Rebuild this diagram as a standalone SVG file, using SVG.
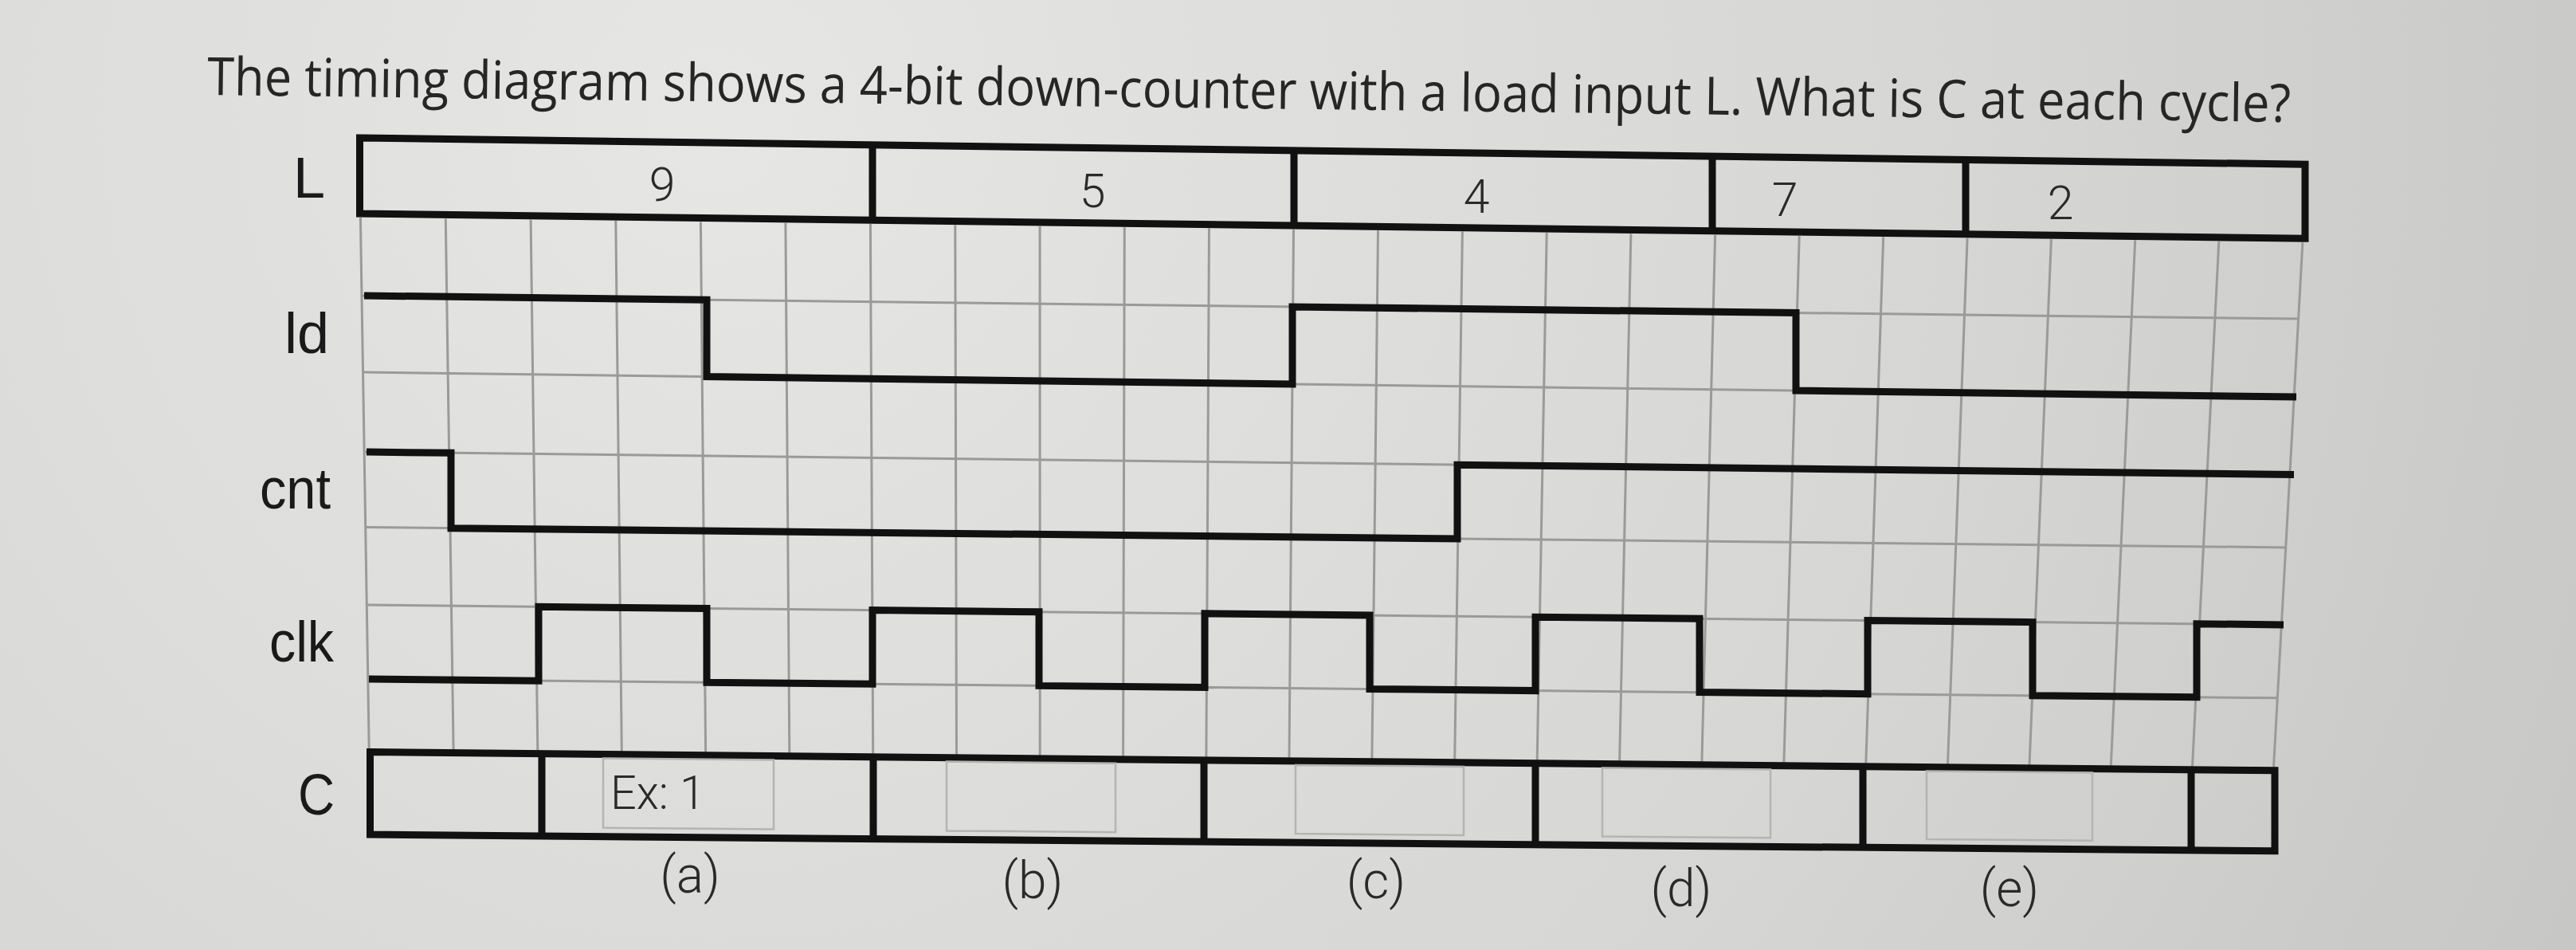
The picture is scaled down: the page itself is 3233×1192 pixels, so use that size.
<svg xmlns="http://www.w3.org/2000/svg" width="3233" height="1192" viewBox="0 0 3233 1192">
<defs>
<radialGradient id="bg" cx="900" cy="150" r="2600" gradientUnits="userSpaceOnUse">
<stop offset="0" stop-color="#e6e6e4"/>
<stop offset="0.6" stop-color="#d6d6d4"/>
<stop offset="1" stop-color="#c6c6c4"/>
</radialGradient>
<style>
.grid{stroke:#9a9a9a;stroke-width:3;fill:none}
.sig{stroke:#111;stroke-width:9;fill:none;stroke-linejoin:miter}
.box{stroke:#111;stroke-width:9;fill:none;stroke-linejoin:miter}
.inbox{stroke:#b4b4b2;stroke-width:2.5;fill:none}
.lbl{font-family:"Liberation Sans",Arial,sans-serif;font-size:72px;fill:#1a1a1a}
.thin{font-family:Roboto,"Liberation Sans",sans-serif;font-weight:300;fill:#2a2a2a}
.title{font-family:"Open Sans","Liberation Sans",sans-serif;font-size:66px;fill:#262626}
</style>
</defs>
<rect x="0" y="0" width="3233" height="1192" fill="url(#bg)"/>

<g id="title">
<text class="title" x="260" y="119" textLength="2615" lengthAdjust="spacingAndGlyphs" transform="rotate(0.745 260 119)">The timing diagram shows a 4-bit down-counter with a load input L. What is C at each cycle?</text>
</g>

<g id="grid">
<path class="grid" d="M452.4 273 L463.2 939.6 M559.3 274.4 L569.1 940.6 M666.1 275.7 L674.8 941.6 M772.8 277.1 L780.3 942.7 M879.4 278.4 L885.6 943.7 M985.9 279.8 L990.8 944.7 M1092.4 281.1 L1095.7 945.7 M1198.8 282.5 L1200.5 946.7 M1305.1 283.9 L1305.2 947.7 M1411.3 285.2 L1409.6 948.8 M1517.5 286.6 L1513.9 949.8 M1623.5 287.9 L1618 950.8 M1729.5 289.3 L1721.9 951.8 M1835.4 290.6 L1825.7 952.8 M1941.2 292 L1929.2 953.8 M2046.9 293.4 L2032.6 954.8 M2152.6 294.7 L2135.9 955.8 M2258.2 296.1 L2238.9 956.8 M2363.7 297.4 L2341.8 957.8 M2469.1 298.8 L2444.5 958.8 M2574.4 300.1 L2547 959.8 M2679.7 301.4 L2649.3 960.8 M2784.8 302.8 L2751.5 961.8 M2889.9 304.1 L2853.5 962.8"/>
<path class="grid" d="M454 371 L2884 400 M455.6 467 L2879 498 M457.2 567 L2873.5 595.4 M458.8 661.5 L2868.6 686.9 M460.4 759.1 L2862.9 783.9 M461.9 852.1 L2858 875.8"/>
</g>

<g id="labels">
<text class="lbl" x="368" y="248">L</text>
<text class="lbl" x="357" y="443">ld</text>
<text class="lbl" x="326" y="638" textLength="89" lengthAdjust="spacingAndGlyphs">cnt</text>
<text class="lbl" x="338" y="830" textLength="81" lengthAdjust="spacingAndGlyphs">clk</text>
<text class="lbl" x="374" y="1022" textLength="46" lengthAdjust="spacingAndGlyphs">C</text>
</g>

<g id="L-bus">
<path class="box" d="M451.5 173 L2893 206.2 L2893 299.2 L451.5 268 Z"/>
<path class="box" d="M1095 181.7 L1095 276.2 M1624 188.9 L1624 282.9 M2149 196.1 L2149 289.7 M2467 200.4 L2467 293.7"/>
<text class="thin" font-size="59" text-anchor="middle" x="831" y="252">9</text>
<text class="thin" font-size="59" text-anchor="middle" x="1371" y="260">5</text>
<text class="thin" font-size="59" text-anchor="middle" x="1853" y="267">4</text>
<text class="thin" font-size="59" text-anchor="middle" x="2240" y="271">7</text>
<text class="thin" font-size="59" text-anchor="middle" x="2586" y="275">2</text>
</g>

<g id="connectors">
<path id="ld" class="sig" d="M457 371 L887 376.2 L887 472.5 L1622 481.9 L1622 385 L2254 392.5 L2254 490 L2882 498"/>
<path id="cnt" class="sig" d="M460 567.1 L566 568.3 L566 662.7 L1829 676 L1829 583.2 L2879 595.5"/>
<path id="clk" class="sig" d="M463 852.1 L676 854.2 L676 761.3 L887 763.5 L887 856.3 L1095 858.3 L1095 765.6 L1304 767.8 L1304 860.4 L1512 862.5 L1512 769.9 L1719 772 L1719 864.5 L1927 866.6 L1927 774.2 L2133 776.3 L2133 868.6 L2344 870.7 L2344 778.5 L2551 780.6 L2551 872.7 L2757 874.8 L2757 782.7 L2866 783.9"/>
</g>

<g id="C-bus">
<path class="box" d="M464.5 943.6 L2855 966.8 L2855 1067.8 L464.5 1047.1 Z"/>
<path class="box" d="M680 945.7 L680 1049 M1096 949.7 L1096 1052.6 M1511 953.7 L1511 1056.2 M1927 957.8 L1927 1059.8 M2338 961.8 L2338 1063.3 M2750 965.7 L2750 1066.9"/>
<path class="inbox" d="M757 951.4 L971 953.5 L971 1040.5 L757 1038.6 Z"/>
<path class="inbox" d="M1188 955.6 L1400 957.7 L1400 1044.2 L1188 1042.4 Z"/>
<path class="inbox" d="M1626 959.9 L1837 961.9 L1837 1048 L1626 1046.1 Z"/>
<path class="inbox" d="M2011 963.6 L2222 965.6 L2222 1051.3 L2011 1049.5 Z"/>
<path class="inbox" d="M2418 967.5 L2626 969.5 L2626 1054.8 L2418 1053 Z"/>
<text class="thin" font-size="59" x="766" y="1015" textLength="119" lengthAdjust="spacingAndGlyphs">Ex: 1</text>
</g>

<g id="cycle-labels">
<text class="thin" font-size="64" text-anchor="middle" x="866" y="1120">(a)</text>
<text class="thin" font-size="64" text-anchor="middle" x="1296" y="1127">(b)</text>
<text class="thin" font-size="64" text-anchor="middle" x="1727" y="1127">(c)</text>
<text class="thin" font-size="64" text-anchor="middle" x="2110" y="1137">(d)</text>
<text class="thin" font-size="64" text-anchor="middle" x="2522" y="1137">(e)</text>
</g>
</svg>
